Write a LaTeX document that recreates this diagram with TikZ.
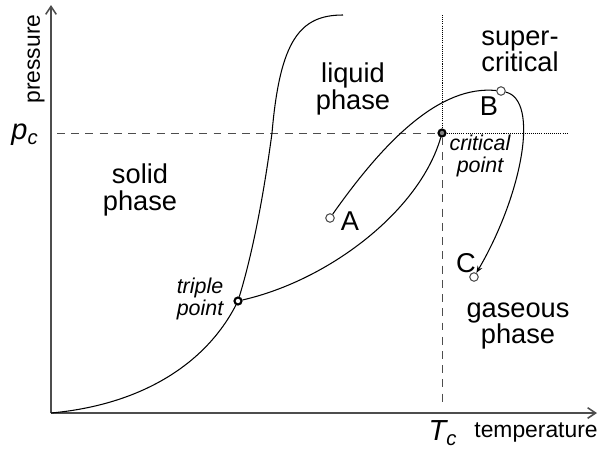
\documentclass[tikz,border=0pt]{standalone}
\usepackage{fontspec}
\setmainfont{Liberation Sans}
\usetikzlibrary{
  arrows.meta,
  positioning
}
\definecolor{axisgray}{HTML}{4D4D4D}
\definecolor{textdark}{HTML}{000000}
\definecolor{pointgray}{HTML}{808080}
\tikzset{
  axisline/.style={
    draw=axisgray, line width=0.9pt,
    -{Straight Barb[length=4.5pt,width=6pt]},
  },
  curve/.style={
    draw=textdark, line width=0.6pt,
  },
  refdashed/.style={
    draw=axisgray, line width=0.5pt,
    dash pattern=on 4.5pt off 3.6pt,
  },
  refdotted/.style={
    draw=textdark, line width=0.5pt,
    dash pattern=on 0.6pt off 0.6pt,
  },
  openpt/.style={
    circle, draw=axisgray, fill=white, line width=0.6pt,
    minimum size=0.17cm, inner sep=0pt,
  },
  specialpt/.style={
    circle, draw=textdark, fill=#1, line width=1.2pt,
    minimum size=0.14cm, inner sep=0pt,
  },
  regiontext/.style={
    font=\fontsize{15.5}{15}\selectfont, text=textdark,
    align=center, inner sep=0pt,
  },
  pointtext/.style={
    font=\fontsize{12.2}{13}\selectfont\itshape, text=textdark,
    align=center, inner sep=0pt,
  },
  axistext/.style={
    font=\fontsize{13}{13}\selectfont, text=textdark, inner sep=0pt,
  },
}

\begin{document}
\begin{tikzpicture}[x=0.02cm, y=-0.02cm]
  \useasboundingbox (0,0) rectangle (599,450);

  % ─── Axes ─────────────────────────────────────────────────────────────
  \coordinate (origin) at (51,413);
  \coordinate (ytip) at (51,5);
  \coordinate (xtip) at (597,413);
  \draw[axisline] (origin) -- (ytip);
  \draw[axisline] (origin) -- (xtip);

  \node[axistext, rotate=90] (pressure) at (36,59) {pressure};
  \node[axistext] (temperature) at (536,432) {temperature};
  \node[regiontext, font=\fontsize{16.5}{16}\selectfont\itshape]
    (pcLabel) at (25,135) {p\textsubscript{c}};
  \node[regiontext, font=\fontsize{16.5}{16}\selectfont\itshape]
    (TcLabel) at (443,433) {T\textsubscript{c}};

  % ─── Special points ───────────────────────────────────────────────────
  \node[specialpt=white] (tp) at (238,301) {};
  \node[specialpt=pointgray] (cp) at (442,133) {};

  % Critical lines: p_c and T_c
  \coordinate (pcStart) at (57,133);
  \coordinate (pcEnd) at (567,133);
  \coordinate (TcTop) at (442,15);
  \coordinate (TcBottom) at (442,405);
  \draw[refdashed] (pcStart) -- (cp);
  \draw[refdotted] (cp) -- (pcEnd);
  \draw[refdotted] (TcTop) -- (cp);
  \draw[refdashed] (cp) -- (TcBottom);

  % ─── Phase boundaries ─────────────────────────────────────────────────
  % sublimation
  \draw[curve] (origin) .. controls (140,405) and (205,365) .. (tp);
  % melting
  \coordinate (meltTop) at (343,15);
  \draw[curve] (tp) .. controls (252,255) and (263,200) .. (272,133)
    .. controls (280,40) and (300,15) .. (meltTop);
  % vaporization
  \draw[curve] (tp) .. controls (330,280) and (420,210) .. (cp);

  \node[pointtext] (tpLabel) at (200,299) {triple\\point};
  \node[pointtext] (cpLabel) at (480,156) {critical\\point};

  % ─── Path A -> B -> C ─────────────────────────────────────────────────
  \node[openpt] (A) at (330,218) {};
  \node[openpt] (B) at (501,91) {};
  \node[openpt] (C) at (474,277) {};
  \draw[curve] (A) .. controls (385,140) and (440,85) .. (B);
  \draw[curve, -{Stealth[length=4pt,width=3pt]}]
    (B) .. controls (540,100) and (522,195) .. (C);

  \node[regiontext] (Alabel) at (350,221) {A};
  \node[regiontext] (Blabel) at (489,106) {B};
  \node[regiontext] (Clabel) at (466,263) {C};

  % ─── Region labels ────────────────────────────────────────────────────
  \node[regiontext] (solid) at (140,190) {solid\\phase};
  \node[regiontext] (liquid) at (353,89) {liquid\\phase};
  \node[regiontext] (supercrit) at (520,51) {super-\\critical};
  \node[regiontext] (gas) at (518,326) {gaseous\\phase};

\end{tikzpicture}
\end{document}
